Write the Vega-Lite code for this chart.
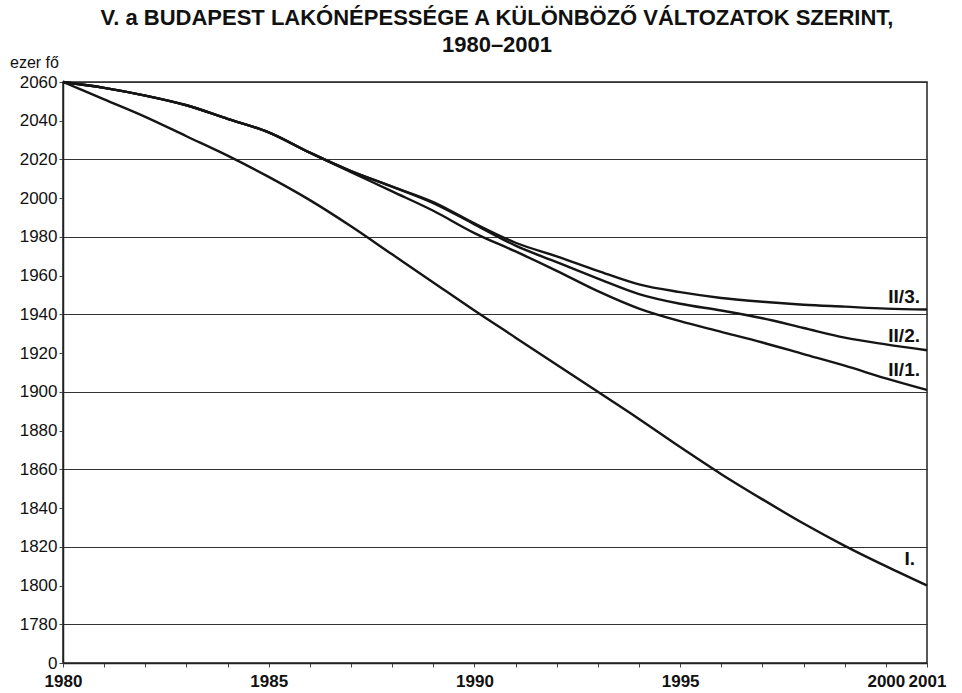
{
  "$schema": "https://vega.github.io/schema/vega-lite/v6.json",
  "width": 864,
  "height": 581,
  "autosize": "none",
  "padding": {"left": 63, "top": 82, "right": 35, "bottom": 30},
  "background": "white",
  "config": {
    "view": {"stroke": "#222", "strokeWidth": 1.5},
    "font": "Liberation Sans"
  },
  "title": {
    "text": ["V. a BUDAPEST LAKÓNÉPESSÉGE A KÜLÖNBÖZŐ VÁLTOZATOK SZERINT,", "1980–2001"],
    "font": "Liberation Sans",
    "fontSize": 22,
    "fontWeight": "bold",
    "color": "#111",
    "anchor": "middle",
    "frame": "group",
    "dx": 2,
    "lineHeight": 27,
    "offset": -3
  },
  "data": {
    "values": [
      {"year": 1980, "series": "I.", "value": 2060},
      {"year": 1981, "series": "I.", "value": 2051},
      {"year": 1982, "series": "I.", "value": 2042},
      {"year": 1983, "series": "I.", "value": 2032},
      {"year": 1984, "series": "I.", "value": 2022},
      {"year": 1985, "series": "I.", "value": 2011},
      {"year": 1986, "series": "I.", "value": 1999},
      {"year": 1987, "series": "I.", "value": 1985.5},
      {"year": 1988, "series": "I.", "value": 1971},
      {"year": 1989, "series": "I.", "value": 1956.5},
      {"year": 1990, "series": "I.", "value": 1942},
      {"year": 1991, "series": "I.", "value": 1928},
      {"year": 1992, "series": "I.", "value": 1914},
      {"year": 1993, "series": "I.", "value": 1900},
      {"year": 1994, "series": "I.", "value": 1886},
      {"year": 1995, "series": "I.", "value": 1871.5},
      {"year": 1996, "series": "I.", "value": 1857.5},
      {"year": 1997, "series": "I.", "value": 1844.5},
      {"year": 1998, "series": "I.", "value": 1832},
      {"year": 1999, "series": "I.", "value": 1820.5},
      {"year": 2000, "series": "I.", "value": 1810},
      {"year": 2001, "series": "I.", "value": 1800},

      {"year": 1980, "series": "II/1.", "value": 2060},
      {"year": 1981, "series": "II/1.", "value": 2057},
      {"year": 1982, "series": "II/1.", "value": 2053},
      {"year": 1983, "series": "II/1.", "value": 2048},
      {"year": 1984, "series": "II/1.", "value": 2041},
      {"year": 1985, "series": "II/1.", "value": 2034},
      {"year": 1986, "series": "II/1.", "value": 2023.5},
      {"year": 1987, "series": "II/1.", "value": 2013.5},
      {"year": 1988, "series": "II/1.", "value": 2003.5},
      {"year": 1989, "series": "II/1.", "value": 1993.5},
      {"year": 1990, "series": "II/1.", "value": 1982},
      {"year": 1991, "series": "II/1.", "value": 1972.5},
      {"year": 1992, "series": "II/1.", "value": 1962.5},
      {"year": 1993, "series": "II/1.", "value": 1952},
      {"year": 1994, "series": "II/1.", "value": 1943},
      {"year": 1995, "series": "II/1.", "value": 1936.5},
      {"year": 1996, "series": "II/1.", "value": 1931},
      {"year": 1997, "series": "II/1.", "value": 1925.5},
      {"year": 1998, "series": "II/1.", "value": 1919.5},
      {"year": 1999, "series": "II/1.", "value": 1913.5},
      {"year": 2000, "series": "II/1.", "value": 1907},
      {"year": 2001, "series": "II/1.", "value": 1901},

      {"year": 1980, "series": "II/2.", "value": 2060},
      {"year": 1981, "series": "II/2.", "value": 2057},
      {"year": 1982, "series": "II/2.", "value": 2053},
      {"year": 1983, "series": "II/2.", "value": 2048},
      {"year": 1984, "series": "II/2.", "value": 2041},
      {"year": 1985, "series": "II/2.", "value": 2034},
      {"year": 1986, "series": "II/2.", "value": 2023.5},
      {"year": 1987, "series": "II/2.", "value": 2014},
      {"year": 1988, "series": "II/2.", "value": 2006},
      {"year": 1989, "series": "II/2.", "value": 1997.5},
      {"year": 1990, "series": "II/2.", "value": 1986.5},
      {"year": 1991, "series": "II/2.", "value": 1975.5},
      {"year": 1992, "series": "II/2.", "value": 1967},
      {"year": 1993, "series": "II/2.", "value": 1958.5},
      {"year": 1994, "series": "II/2.", "value": 1950.5},
      {"year": 1995, "series": "II/2.", "value": 1945.5},
      {"year": 1996, "series": "II/2.", "value": 1942},
      {"year": 1997, "series": "II/2.", "value": 1938},
      {"year": 1998, "series": "II/2.", "value": 1933},
      {"year": 1999, "series": "II/2.", "value": 1928},
      {"year": 2000, "series": "II/2.", "value": 1924.5},
      {"year": 2001, "series": "II/2.", "value": 1921.5},

      {"year": 1980, "series": "II/3.", "value": 2060},
      {"year": 1981, "series": "II/3.", "value": 2057},
      {"year": 1982, "series": "II/3.", "value": 2053},
      {"year": 1983, "series": "II/3.", "value": 2048},
      {"year": 1984, "series": "II/3.", "value": 2041},
      {"year": 1985, "series": "II/3.", "value": 2034},
      {"year": 1986, "series": "II/3.", "value": 2023.5},
      {"year": 1987, "series": "II/3.", "value": 2014},
      {"year": 1988, "series": "II/3.", "value": 2006},
      {"year": 1989, "series": "II/3.", "value": 1998},
      {"year": 1990, "series": "II/3.", "value": 1987},
      {"year": 1991, "series": "II/3.", "value": 1977},
      {"year": 1992, "series": "II/3.", "value": 1970},
      {"year": 1993, "series": "II/3.", "value": 1962.5},
      {"year": 1994, "series": "II/3.", "value": 1955.5},
      {"year": 1995, "series": "II/3.", "value": 1951.5},
      {"year": 1996, "series": "II/3.", "value": 1948.5},
      {"year": 1997, "series": "II/3.", "value": 1946.5},
      {"year": 1998, "series": "II/3.", "value": 1945},
      {"year": 1999, "series": "II/3.", "value": 1944},
      {"year": 2000, "series": "II/3.", "value": 1943},
      {"year": 2001, "series": "II/3.", "value": 1942.5}
    ]
  },
  "encoding": {
    "x": {
      "field": "year",
      "type": "quantitative",
      "scale": {"domain": [1980, 2001], "nice": false, "zero": false},
      "axis": {
        "title": null,
        "values": [1980, 1981, 1982, 1983, 1984, 1985, 1986, 1987, 1988, 1989, 1990, 1991, 1992, 1993, 1994, 1995, 1996, 1997, 1998, 1999, 2000, 2001],
        "format": "d",
        "labelExpr": "(datum.value % 5 == 0 || datum.value == 2001) ? datum.label : ''",
        "labelOverlap": false,
        "labelFlush": false,
        "labelFont": "Liberation Sans",
        "labelFontSize": 17,
        "labelFontWeight": "bold",
        "labelColor": "#111",
        "labelPadding": 6,
        "tickSize": 4,
        "tickColor": "#444",
        "domainColor": "#222",
        "domainWidth": 1.5,
        "grid": false
      }
    },
    "y": {
      "field": "value",
      "type": "quantitative",
      "scale": {"domain": [1760, 2060], "nice": false, "zero": false},
      "axis": {
        "title": "ezer fő",
        "titleAngle": 0,
        "titleX": -29,
        "titleY": -20,
        "titleAlign": "center",
        "titleBaseline": "middle",
        "titleFont": "Liberation Sans",
        "titleFontSize": 16,
        "titleFontWeight": "normal",
        "titleColor": "#111",
        "values": [1760, 1780, 1800, 1820, 1840, 1860, 1880, 1900, 1920, 1940, 1960, 1980, 2000, 2020, 2040, 2060],
        "format": "d",
        "labelExpr": "datum.value == 1760 ? '0' : datum.label",
        "labelFlush": false,
        "labelFont": "Liberation Sans",
        "labelFontSize": 17,
        "labelColor": "#111",
        "labelPadding": 2,
        "tickSize": 4,
        "tickColor": "#444",
        "domainColor": "#222",
        "domainWidth": 1.5,
        "grid": true,
        "gridColor": "#333",
        "gridWidth": 1,
        "gridOpacity": {"condition": {"test": "datum.value % 40 == 20", "value": 1}, "value": 0}
      }
    }
  },
  "layer": [
    {
      "mark": {"type": "line", "color": "#151515", "strokeWidth": 2.4, "interpolate": "monotone"},
      "encoding": {"detail": {"field": "series", "type": "nominal"}}
    },
    {
      "transform": [{"filter": "datum.year == 2001 && datum.series == 'I.'"}],
      "mark": {"type": "text", "align": "right", "baseline": "middle", "dx": -12, "dy": -27, "fontSize": 19, "fontWeight": "bold", "font": "Liberation Sans", "color": "#111"},
      "encoding": {"text": {"field": "series", "type": "nominal"}}
    },
    {
      "transform": [{"filter": "datum.year == 2001 && datum.series == 'II/1.'"}],
      "mark": {"type": "text", "align": "right", "baseline": "middle", "dx": -7, "dy": -20, "fontSize": 19, "fontWeight": "bold", "font": "Liberation Sans", "color": "#111"},
      "encoding": {"text": {"field": "series", "type": "nominal"}}
    },
    {
      "transform": [{"filter": "datum.year == 2001 && datum.series == 'II/2.'"}],
      "mark": {"type": "text", "align": "right", "baseline": "middle", "dx": -7, "dy": -14, "fontSize": 19, "fontWeight": "bold", "font": "Liberation Sans", "color": "#111"},
      "encoding": {"text": {"field": "series", "type": "nominal"}}
    },
    {
      "transform": [{"filter": "datum.year == 2001 && datum.series == 'II/3.'"}],
      "mark": {"type": "text", "align": "right", "baseline": "middle", "dx": -7, "dy": -13, "fontSize": 19, "fontWeight": "bold", "font": "Liberation Sans", "color": "#111"},
      "encoding": {"text": {"field": "series", "type": "nominal"}}
    }
  ]
}
